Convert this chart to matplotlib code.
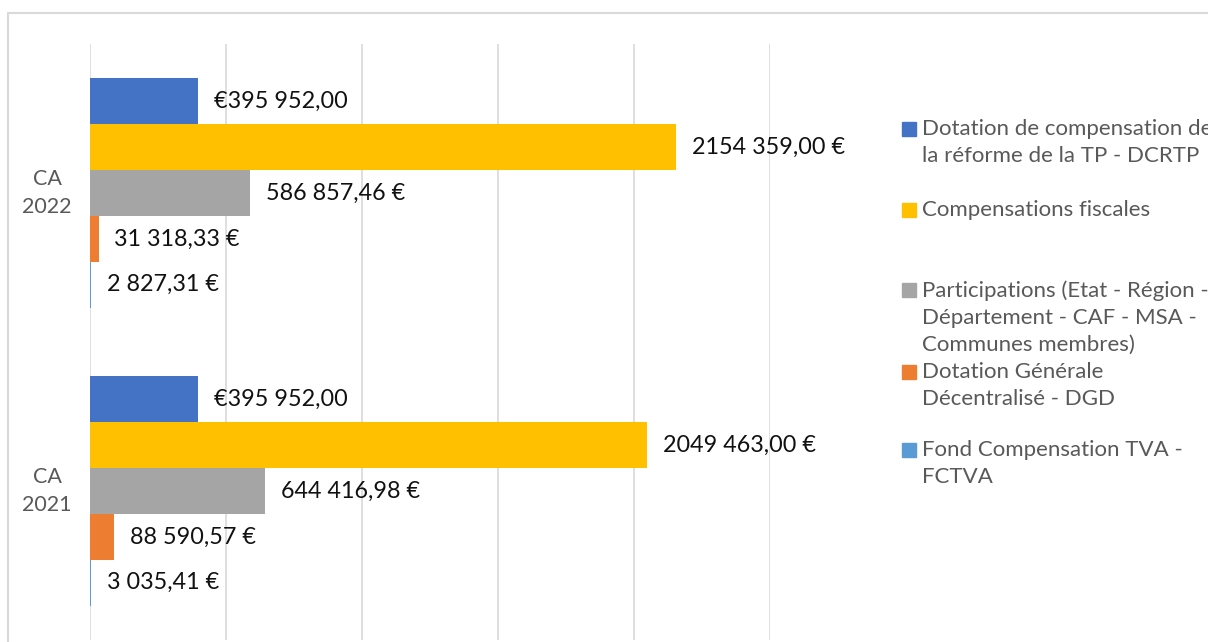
import matplotlib.pyplot as plt
from matplotlib.patches import Rectangle

# data
categories = ["CA\n2021", "CA\n2022"]
series_names = [
    "Dotation de compensation de\nla réforme de la TP - DCRTP",
    "Compensations fiscales",
    "Participations (Etat - Région -\nDépartement - CAF - MSA -\nCommunes membres)",
    "Dotation Générale\nDécentralisé - DGD",
    "Fond Compensation TVA -\nFCTVA",
]
dcrtp = [395952.00, 395952.00]
compensations = [2049463.00, 2154359.00]
participations = [644416.98, 586857.46]
dgd = [88590.57, 31318.33]
fctva = [3035.41, 2827.31]

dcrtp_labels = ["€395 952,00", "€395 952,00"]
compensations_labels = ["2049 463,00 €", "2154 359,00 €"]
participations_labels = ["644 416,98 €", "586 857,46 €"]
dgd_labels = ["88 590,57 €", "31 318,33 €"]
fctva_labels = ["3 035,41 €", "2 827,31 €"]

colors = ["#4472C4", "#FFC000", "#A5A5A5", "#ED7D31", "#5B9BD5"]
font = ["Lato", "DejaVu Sans"]
W, H = 1208, 642

fig = plt.figure(figsize=(W / 100, H / 100), dpi=100)
ax = fig.add_axes([90 / W, 2 / H, 680 / W, 596 / H])

values = [dcrtp, compensations, participations, dgd, fctva]
labels = [dcrtp_labels, compensations_labels, participations_labels, dgd_labels, fctva_labels]
h = 0.154
for i, (vals, labs) in enumerate(zip(values, labels)):
    ys = [c + (2 - i) * h for c in range(len(categories))]
    ax.barh(ys, vals, height=h, color=colors[i], linewidth=0, zorder=3)
    for y, v, t in zip(ys, vals, labs):
        ax.annotate(t, (v, y), xytext=(11.5, 0), textcoords="offset points",
                    va="center", ha="left", fontsize=16.8, color="#111111",
                    family=font, zorder=4)

ax.set_xlim(0, 2500000)
ax.set_ylim(-0.5, 1.5)
ax.set_xticks([0, 500000, 1000000, 1500000, 2000000, 2500000])
ax.set_xticklabels([])
ax.tick_params(axis="x", length=0)
ax.xaxis.grid(True, color="#D9D9D9", linewidth=1.2, zorder=0)
ax.set_yticks(range(len(categories)))
ax.set_yticklabels(categories, family=font, fontsize=15.5, color="#595959",
                   linespacing=1.5, ha="center", va="center")
ax.tick_params(axis="y", length=0, pad=31)
for s in ax.spines.values():
    s.set_visible(False)

# outer chart border
fig.patches.append(Rectangle((8 / W, -0.05), 1.1, 1 - 13 / H + 0.05,
                             transform=fig.transFigure, fill=False,
                             edgecolor="#D9D9D9", linewidth=1.5))

# legend drawn by hand (Excel spacing is uneven); y = first line centre in px
legend_y = [129, 210, 290, 372, 450]
for name, c, y in zip(series_names, colors, legend_y):
    fig.patches.append(Rectangle((902 / W, 1 - (y + 7) / H), 14 / W, 14 / H,
                                 transform=fig.transFigure, color=c))
    fig.text(922 / W, 1 - (y - 10) / H, name, family=font, fontsize=16,
             color="#595959", va="top", ha="left", linespacing=1.45)

fig.savefig("out.png", dpi=100)
